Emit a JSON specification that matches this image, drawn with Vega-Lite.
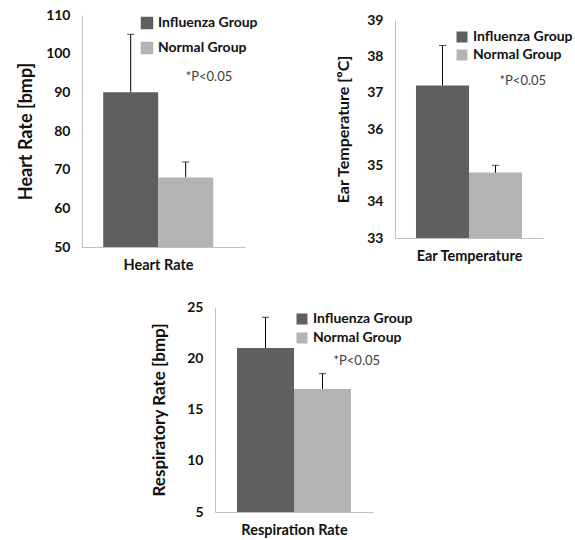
{
  "$schema": "https://vega.github.io/schema/vega-lite/v6.json",
  "background": "white",
  "padding": {"left": 17, "top": 8, "right": 5, "bottom": 5},
  "config": {
    "font": "Lato",
    "view": {"stroke": null},
    "axis": {"domainColor": "#bfbfbf", "ticks": false, "grid": false, "labelFontWeight": "bold", "labelFontSize": 14, "labelColor": "#111", "titleFontWeight": "bold", "titleColor": "#111", "labelPadding": 12, "labelOverlap": false, "tickCount": 10},
    "axisX": {"labels": false, "titleFontSize": 14.5, "titlePadding": 11},
    "axisY": {"titleFontSize": 16, "format": "d"},
    "legend": {"title": null, "orient": "none", "symbolType": "square", "symbolStrokeWidth": 0, "labelFontSize": 14, "labelFontWeight": "bold", "labelColor": "#111", "labelOffset": 4},
    "text": {"font": "Lato", "fontSize": 13, "color": "#404040", "align": "left"}
  },
  "resolve": {"scale": {"color": "independent"}, "legend": {"color": "independent"}},
  "datasets": {
    "hr": [
      {"group": "Influenza Group", "value": 90, "upper": 105},
      {"group": "Normal Group", "value": 68, "upper": 72}
    ],
    "et": [
      {"group": "Influenza Group", "value": 37.2, "upper": 38.3},
      {"group": "Normal Group", "value": 34.8, "upper": 35.0}
    ],
    "rr": [
      {"group": "Influenza Group", "value": 21, "upper": 24},
      {"group": "Normal Group", "value": 17, "upper": 18.5}
    ],
    "none": []
  },
  "spacing": 28,
  "vconcat": [
    {
      "spacing": 77,
      "align": "none",
      "resolve": {"scale": {"color": "independent"}, "legend": {"color": "independent"}},
      "hconcat": [
        {
          "data": {"name": "hr"},
          "width": 163,
          "height": 232,
          "encoding": {
            "x": {"field": "group", "type": "nominal", "sort": null, "title": "Heart Rate", "scale": {"paddingInner": 0, "paddingOuter": 0.482, "align": 0.4}, "axis": {"titleX": 76}}
          },
          "layer": [
            {
              "mark": {"type": "bar"},
              "encoding": {
                "y": {"field": "value", "type": "quantitative", "title": "Heart Rate [bmp]", "scale": {"domain": [50, 110], "nice": false, "zero": false}, "axis": {"values": [50, 60, 70, 80, 90, 100, 110], "format": "d", "tickCount": 10, "labelOverlap": false, "titlePadding": 10, "titleFontSize": 18}},
                "y2": {"datum": 50},
                "color": {"field": "group", "type": "nominal", "scale": {"domain": ["Influenza Group", "Normal Group"], "range": ["#5f5f5f", "#b3b3b3"]}, "legend": {"legendX": 58, "legendY": 1, "symbolSize": 156, "rowPadding": 11}}
              }
            },
            {
              "mark": {"type": "rule", "color": "black", "strokeWidth": 1},
              "encoding": {"y": {"field": "value", "type": "quantitative", "title": "Heart Rate [bmp]"}, "y2": {"field": "upper"}}
            },
            {
              "mark": {"type": "tick", "color": "black", "thickness": 1, "size": 7},
              "encoding": {"y": {"field": "upper", "type": "quantitative", "title": "Heart Rate [bmp]"}}
            },
            {
              "data": {"values": [{"note": "*P<0.05"}]},
              "mark": {"type": "text", "baseline": "middle"},
              "encoding": {"x": {"datum": "Normal Group", "type": "nominal"}, "y": {"datum": 94, "type": "quantitative"}, "text": {"field": "note"}}
            }
          ]
        },
        {
          "spacing": -6,
          "resolve": {"scale": {"color": "independent"}, "legend": {"color": "independent"}},
          "vconcat": [
            {
              "data": {"name": "none"},
              "width": 10,
              "height": 4,
              "mark": {"type": "point", "opacity": 0},
              "encoding": {}
            },
            {
              "data": {"name": "et"},
              "width": 148,
              "height": 218,
              "encoding": {
                "x": {"field": "group", "type": "nominal", "sort": null, "title": "Ear Temperature", "scale": {"paddingInner": 0, "paddingOuter": 0.396}}
              },
              "layer": [
                {
                  "mark": {"type": "bar"},
                  "encoding": {
                    "y": {"field": "value", "type": "quantitative", "title": "Ear Temperature [ºC]", "scale": {"domain": [33, 39], "nice": false, "zero": false}, "axis": {"values": [33, 34, 35, 36, 37, 38, 39], "format": "d", "tickCount": 10, "labelOverlap": false, "titlePadding": 15}},
                    "y2": {"datum": 33},
                    "color": {"field": "group", "type": "nominal", "scale": {"domain": ["Influenza Group", "Normal Group"], "range": ["#5f5f5f", "#b3b3b3"]}, "legend": {"legendX": 60, "legendY": 10, "symbolSize": 121, "rowPadding": 4}}
                  }
                },
                {
                  "mark": {"type": "rule", "color": "black", "strokeWidth": 1},
                  "encoding": {"y": {"field": "value", "type": "quantitative", "title": "Ear Temperature [ºC]"}, "y2": {"field": "upper"}}
                },
                {
                  "mark": {"type": "tick", "color": "black", "thickness": 1, "size": 7},
                  "encoding": {"y": {"field": "upper", "type": "quantitative", "title": "Ear Temperature [ºC]"}}
                },
                {
                  "data": {"values": [{"note": "*P<0.05"}]},
                  "mark": {"type": "text", "baseline": "middle", "dx": 4},
                  "encoding": {"x": {"datum": "Normal Group", "type": "nominal"}, "y": {"datum": 37.32, "type": "quantitative"}, "text": {"field": "note"}}
                }
              ]
            }
          ]
        }
      ]
    },
    {
      "spacing": 20,
      "resolve": {"scale": {"color": "independent"}, "legend": {"color": "independent"}},
      "hconcat": [
        {
          "data": {"name": "none"},
          "width": 48,
          "height": 10,
          "mark": {"type": "point", "opacity": 0},
          "encoding": {}
        },
        {
          "data": {"name": "rr"},
          "width": 158,
          "height": 205,
          "encoding": {
            "x": {"field": "group", "type": "nominal", "sort": null, "title": "Respiration Rate", "scale": {"paddingInner": 0, "paddingOuter": 0.386}}
          },
          "layer": [
            {
              "mark": {"type": "bar"},
              "encoding": {
                "y": {"field": "value", "type": "quantitative", "title": "Respiratory  Rate [bmp]", "scale": {"domain": [5, 25], "nice": false, "zero": false}, "axis": {"values": [5, 10, 15, 20, 25], "format": "d", "tickCount": 10, "labelOverlap": false, "titlePadding": 18, "titleFontSize": 17}},
                "y2": {"datum": 5},
                "color": {"field": "group", "type": "nominal", "scale": {"domain": ["Influenza Group", "Normal Group"], "range": ["#5f5f5f", "#b3b3b3"]}, "legend": {"legendX": 80, "legendY": 5, "symbolSize": 121, "rowPadding": 5}}
              }
            },
            {
              "mark": {"type": "rule", "color": "black", "strokeWidth": 1},
              "encoding": {"y": {"field": "value", "type": "quantitative", "title": "Respiratory  Rate [bmp]"}, "y2": {"field": "upper"}}
            },
            {
              "mark": {"type": "tick", "color": "black", "thickness": 1, "size": 7},
              "encoding": {"y": {"field": "upper", "type": "quantitative", "title": "Respiratory  Rate [bmp]"}}
            },
            {
              "data": {"values": [{"note": "*P<0.05"}]},
              "mark": {"type": "text", "baseline": "middle", "dx": 11},
              "encoding": {"x": {"datum": "Normal Group", "type": "nominal"}, "y": {"datum": 19.73, "type": "quantitative"}, "text": {"field": "note"}}
            }
          ]
        }
      ]
    }
  ]
}
